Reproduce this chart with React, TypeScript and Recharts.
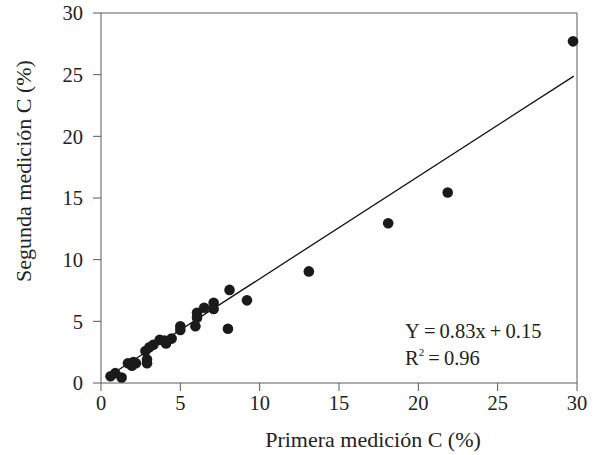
import { ScatterChart, Scatter, XAxis, YAxis, ReferenceLine } from 'recharts';

// primera / segunda medición C (%)
const primera = [
  29.75, 21.85, 18.1, 13.1, 8.1, 9.2, 8.0, 7.1, 7.1, 6.5, 6.05, 6.05, 5.95, 5.0, 5.0,
  4.45, 4.1, 4.0, 3.7, 3.3, 3.05, 2.8, 2.9, 2.9, 2.2, 2.05, 1.7, 1.95, 0.9, 0.6, 1.3,
];
const segunda = [
  27.7, 15.45, 12.95, 9.05, 7.55, 6.7, 4.4, 6.5, 6.0, 6.1, 5.7, 5.3, 4.6, 4.6, 4.3,
  3.6, 3.2, 3.45, 3.5, 3.1, 2.9, 2.6, 1.9, 1.6, 1.6, 1.7, 1.6, 1.4, 0.8, 0.55, 0.45,
];

// recta de ajuste Y = 0.83x + 0.15 (extremos)
const ajusteX = [0.5, 29.8];
const ajusteY = [0.57, 24.88];

const ticks = [0, 5, 10, 15, 20, 25, 30];

const puntos = primera.map((x, i) => ({ x, y: segunda[i] }));
const ajuste = ajusteX.map((x, i) => ({ x, y: ajusteY[i] }));

const font = '"Liberation Serif", "Times New Roman", serif';
const axisColor = '#5a5a5a';
const textColor = '#222';

const Dot = (props: any) => <circle cx={props.cx} cy={props.cy} r={5.3} fill="#1a1a1a" />;

const XTitle = () => (
  <text x={373} y={447} textAnchor="middle" fill={textColor} fontSize={22} fontFamily={font}>
    Primera medición C (%)
  </text>
);

const YTitle = () => (
  <text
    x={31}
    y={171}
    transform="rotate(-90, 31, 171)"
    textAnchor="middle"
    fill={textColor}
    fontSize={22}
    fontFamily={font}
  >
    Segunda medición C (%)
  </text>
);

export default function App() {
  return (
    <div style={{ position: 'absolute', left: 0, top: 0, width: 598, height: 455, background: '#fff', fontFamily: font }}>
      <ScatterChart width={598} height={455} margin={{ top: 13, right: 21, bottom: 42, left: 41 }}>
        <XAxis
          type="number"
          dataKey="x"
          domain={[0, 30]}
          ticks={ticks}
          height={30}
          tickSize={8}
          tickMargin={4}
          stroke={axisColor}
          tick={{ fill: textColor, fontSize: 20.5, fontFamily: font }}
          label={XTitle}
        />
        <YAxis
          type="number"
          dataKey="y"
          domain={[0, 30]}
          ticks={ticks}
          width={60}
          tickSize={8}
          tickMargin={10}
          stroke={axisColor}
          tick={{ fill: textColor, fontSize: 20.5, fontFamily: font }}
          label={YTitle}
        />
        <ReferenceLine y={30} stroke={axisColor} />
        <ReferenceLine x={30} stroke={axisColor} />
        <Scatter data={ajuste} line={{ stroke: '#111', strokeWidth: 1.3 }} shape={() => <g />} isAnimationActive={false} />
        <Scatter data={puntos} shape={Dot} isAnimationActive={false} />
      </ScatterChart>
      <div style={{ position: 'absolute', left: 405, top: 318, fontSize: 20.5, lineHeight: '27px', color: textColor }}>
        <div>Y{'\u2009'}={'\u2009'}0.83x{'\u2009'}+{'\u2009'}0.15</div>
        <div>R<sup style={{ fontSize: 11, verticalAlign: 'top', lineHeight: '14px' }}>2</sup>{'\u2009'}={'\u2009'}0.96</div>
      </div>
    </div>
  );
}
